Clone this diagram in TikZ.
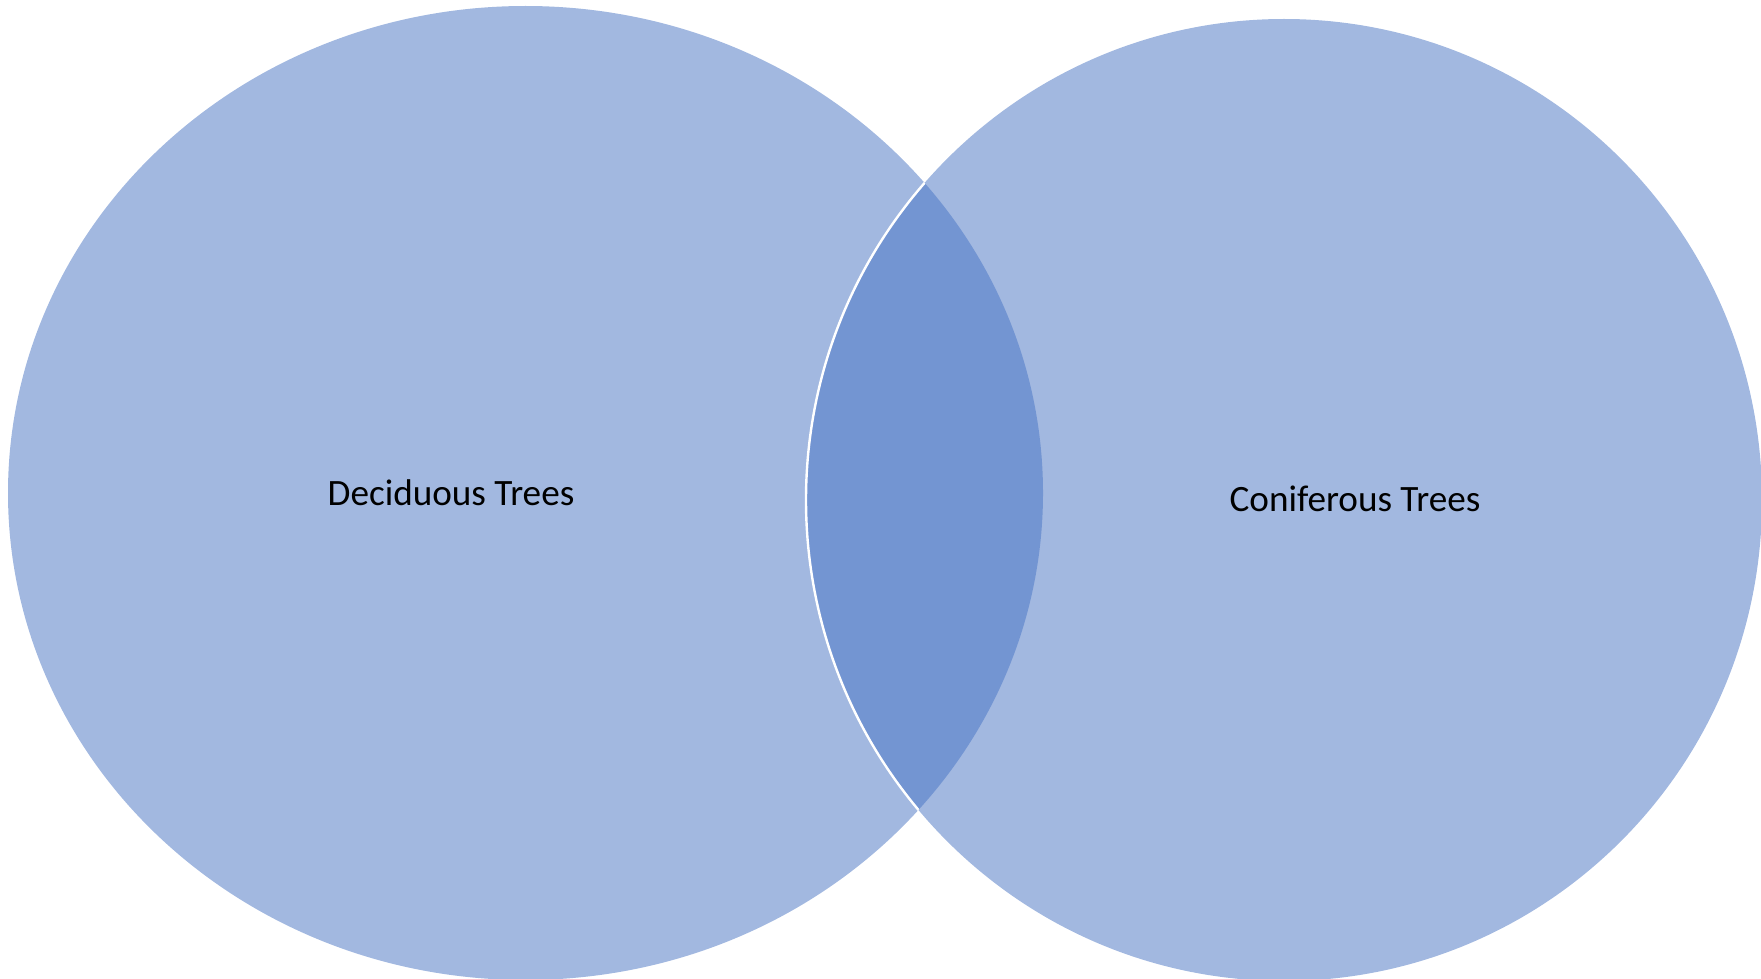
\documentclass[tikz,border=0pt]{standalone}
\usepackage{fontspec}
\setmainfont{Carlito}
\definecolor{setblue}{RGB}{162,184,224}
\definecolor{lensblue}{RGB}{115,149,210}

\begin{document}
\begin{tikzpicture}[x=0.5pt,y=-0.5pt,
        setlabel/.style={font=\fontsize{18.6}{22}\selectfont,text=black,inner sep=0pt}]
        \useasboundingbox (0,0) rectangle (1761,979);
        \def\leftset{(525.5,493) ellipse [x radius=517.5, y radius=487]}
        \def\rightset{(1284,500) ellipse [x radius=478, y radius=481]}

        \fill[setblue] \leftset;
        \fill[setblue] \rightset;
        \begin{scope}
            \clip \leftset;
            \fill[lensblue] \rightset;
            \draw[white, line width=1.2pt] \rightset;
        \end{scope}

        \node[setlabel] (deciduous) at (451,493) {Deciduous Trees};
        \node[setlabel] (coniferous) at (1355,499) {Coniferous Trees};
    \end{tikzpicture}
\end{document}
